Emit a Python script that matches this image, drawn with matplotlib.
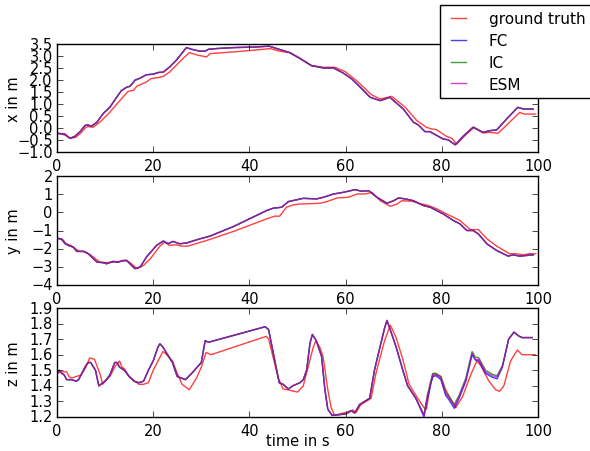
import matplotlib
matplotlib.use("Agg")
import matplotlib.pyplot as plt

# x position: ground truth and estimates (FC, IC, ESM overlap)
t_x_gt = [0, 1.6, 2.8, 3.9, 5.1, 6.0, 6.5, 7.5, 8.9, 11.0, 13.1, 14.8, 15.9, 16.6, 18.6,
          19.6, 21.0, 22.1, 23.4, 25.5, 27.5, 29.4, 31.1, 31.8, 36.7, 40.8, 44.3, 46.3,
          48.4, 50.5, 52.9, 55.4, 57.8, 59.9, 62.3, 65.4, 67.2, 69.6, 72.4, 74.8, 76.8,
          77.9, 78.9, 81.0, 82.1, 83.1, 84.8, 86.7, 88.6, 90.0, 91.7, 94.1, 96.2, 97.2, 99.5]
x_gt = [-0.22, -0.29, -0.43, -0.39, -0.18, 0.03, 0.06, 0.03, 0.24, 0.66, 1.15, 1.53, 1.57,
        1.74, 1.92, 2.06, 2.10, 2.15, 2.33, 2.76, 3.14, 3.03, 2.96, 3.10, 3.17, 3.24, 3.31,
        3.20, 3.14, 2.90, 2.60, 2.53, 2.53, 2.35, 1.97, 1.38, 1.21, 1.32, 0.86, 0.31, 0.03,
        -0.04, -0.07, -0.35, -0.43, -0.67, -0.32, 0.03, -0.21, -0.18, -0.22, 0.24, 0.65,
        0.58, 0.58]
t_x_est = [0, 1.6, 2.7, 3.7, 4.8, 5.8, 6.3, 7.2, 8.3, 9.6, 11.0, 12.4, 13.4, 14.5, 15.2,
           16.2, 17.3, 18.6, 20.0, 21.0, 22.1, 23.4, 24.8, 26.9, 28.0, 29.7, 30.8, 31.5,
           33.2, 36.7, 40.8, 44.1, 45.7, 48.4, 50.5, 52.9, 55.4, 57.5, 59.5, 61.3, 63.4,
           65.1, 67.2, 69.2, 72.0, 74.1, 75.1, 76.5, 77.5, 80.3, 81.3, 82.8, 84.4, 86.5,
           88.6, 90.0, 91.4, 93.5, 95.8, 97.0, 99.0]
x_est = [-0.22, -0.25, -0.43, -0.35, -0.15, 0.10, 0.13, 0.08, 0.24, 0.60, 0.87, 1.28, 1.56,
         1.70, 1.74, 1.99, 2.08, 2.22, 2.24, 2.31, 2.33, 2.54, 2.82, 3.35, 3.28, 3.20, 3.20,
         3.28, 3.31, 3.35, 3.37, 3.41, 3.31, 3.14, 2.90, 2.60, 2.50, 2.50, 2.29, 2.04, 1.63,
         1.28, 1.14, 1.28, 0.79, 0.24, 0.13, -0.15, -0.15, -0.46, -0.49, -0.70, -0.35, 0.03,
         -0.18, -0.11, -0.08, 0.38, 0.86, 0.79, 0.79]

# y position
t_y_gt = [0, 1.2, 1.9, 2.9, 3.6, 4.7, 5.7, 7.1, 8.9, 10.3, 11.7, 13.1, 14.5, 15.5, 16.6,
          18.0, 19.4, 21.4, 22.4, 23.4, 24.8, 25.9, 27.2, 31.1, 36.7, 43.6, 45.3, 46.3,
          47.7, 49.1, 50.5, 51.2, 54.7, 56.1, 58.2, 60.6, 62.4, 64.1, 65.5, 67.2, 69.3,
          70.7, 71.7, 73.8, 75.2, 77.3, 79.0, 81.0, 83.8, 85.9, 87.6, 89.4, 91.4, 94.1,
          95.5, 96.9, 98.2, 99.5]
y_gt = [-1.43, -1.50, -1.73, -1.82, -1.97, -2.15, -2.15, -2.37, -2.74, -2.77, -2.74, -2.70,
        -2.65, -2.83, -3.10, -2.92, -2.55, -1.86, -1.64, -1.82, -1.79, -1.86, -1.86, -1.55,
        -1.05, -0.36, -0.21, -0.21, 0.28, 0.41, 0.46, 0.46, 0.50, 0.59, 0.79, 0.83, 1.01,
        1.01, 1.10, 0.64, 0.33, 0.46, 0.64, 0.61, 0.50, 0.37, 0.19, -0.09, -0.45, -0.95,
        -0.95, -1.46, -1.86, -2.28, -2.28, -2.34, -2.28, -2.28]
t_y_est = [0, 0.9, 1.7, 2.7, 3.4, 4.1, 5.5, 6.5, 8.3, 9.6, 10.3, 11.7, 12.7, 13.8, 14.5,
           15.5, 16.2, 17.3, 18.6, 20.7, 22.1, 23.1, 24.1, 25.5, 26.9, 29.7, 31.8, 36.7,
           43.6, 45.0, 46.7, 48.1, 51.2, 54.0, 55.4, 57.5, 59.5, 62.0, 63.3, 64.8, 66.5,
           68.6, 70.0, 71.0, 72.4, 74.1, 76.2, 77.6, 80.3, 82.4, 83.8, 85.2, 86.5, 87.6,
           89.4, 91.4, 93.8, 94.8, 96.2, 99.0]
y_est = [-1.43, -1.46, -1.73, -1.86, -1.91, -2.15, -2.15, -2.28, -2.74, -2.77, -2.83, -2.70,
         -2.74, -2.65, -2.65, -2.92, -3.10, -3.01, -2.46, -1.82, -1.58, -1.73, -1.60, -1.73,
         -1.69, -1.46, -1.31, -0.78, 0.10, 0.23, 0.28, 0.59, 0.77, 0.74, 0.83, 1.01, 1.10,
         1.25, 1.16, 1.19, 0.83, 0.50, 0.64, 0.79, 0.74, 0.64, 0.37, 0.28, -0.09, -0.45,
         -0.64, -1.00, -1.00, -1.19, -1.74, -2.10, -2.41, -2.34, -2.41, -2.34]

# z position
t_z_gt = [0, 1, 2, 2.5, 3, 4, 5, 6, 6.8, 7.8, 9, 9.5, 10, 11, 12, 13, 13.5, 14, 15, 17, 18,
          19, 20, 21, 22, 22.5, 24, 25, 26, 27.5, 29, 30, 31, 32, 43.5, 44, 46, 47, 48, 50,
          51.2, 52.2, 53.2, 53.8, 54.6, 55.3, 56.3, 57, 57.7, 60.1, 61.5, 62.2, 63.2, 65.3,
          66.3, 68.1, 69.3, 70.5, 71.9, 73.2, 75, 76.3, 76.8, 77.7, 78.4, 79.8, 80.8, 82.9,
          84.3, 86, 87.3, 88.1, 89.8, 91.2, 92, 92.9, 94.3, 95.7, 96.7, 99.4]
z_gt = [1.48, 1.49, 1.49, 1.46, 1.45, 1.46, 1.47, 1.52, 1.58, 1.57, 1.47, 1.41, 1.43, 1.46,
        1.52, 1.56, 1.52, 1.51, 1.46, 1.41, 1.41, 1.42, 1.50, 1.56, 1.62, 1.61, 1.56, 1.48,
        1.41, 1.375, 1.45, 1.52, 1.615, 1.60, 1.718, 1.70, 1.45, 1.38, 1.375, 1.36, 1.40,
        1.52, 1.64, 1.69, 1.65, 1.59, 1.375, 1.26, 1.21, 1.23, 1.245, 1.23, 1.28, 1.32, 1.48,
        1.69, 1.79, 1.71, 1.57, 1.41, 1.32, 1.26, 1.25, 1.42, 1.48, 1.46, 1.375, 1.26, 1.33,
        1.47, 1.56, 1.53, 1.43, 1.375, 1.365, 1.40, 1.56, 1.63, 1.60, 1.60]
t_z_est = [0, 0.5, 1, 1.5, 2, 3, 4, 4.5, 5, 6, 6.5, 7, 8, 8.7, 10, 11, 12, 12.5, 13, 14, 15,
           16, 17, 18, 19, 20, 21, 21.4, 22, 23, 24, 25, 26.7, 28, 30, 30.8, 31.5, 43.3, 44,
           46.2, 47, 48.1, 49, 50.5, 51.2, 51.9, 52.6, 53.1, 53.9, 55, 55.7, 56.3, 57.2, 60.1,
           61.2, 61.9, 62.9, 65, 66, 67, 68.1, 68.6, 69.4, 70.5, 71.9, 72.9, 74.6, 76.3, 77,
           78.1, 78.8, 79.8, 80.8, 81.5, 82.6, 83.6, 85, 86.3, 87, 87.7, 89.1, 90.5, 91.5,
           92.6, 93.9, 95, 96, 96.7, 98.8]
z_esm = [1.48, 1.50, 1.48, 1.47, 1.44, 1.44, 1.43, 1.44, 1.47, 1.53, 1.55, 1.55, 1.50, 1.40,
         1.43, 1.47, 1.55, 1.55, 1.52, 1.50, 1.46, 1.43, 1.42, 1.43, 1.50, 1.56, 1.65, 1.67,
         1.65, 1.60, 1.55, 1.46, 1.44, 1.48, 1.55, 1.69, 1.68, 1.78, 1.76, 1.42, 1.41, 1.38,
         1.40, 1.42, 1.44, 1.50, 1.675, 1.73, 1.69, 1.59, 1.375, 1.25, 1.21, 1.22, 1.24, 1.225,
         1.28, 1.32, 1.50, 1.63, 1.77, 1.82, 1.75, 1.65, 1.50, 1.40, 1.32, 1.21, 1.33, 1.47,
         1.47, 1.45, 1.35, 1.32, 1.27, 1.33, 1.44, 1.61, 1.57, 1.57, 1.49, 1.465, 1.457,
         1.525, 1.70, 1.745, 1.72, 1.71, 1.71]
z_fc = [1.48, 1.50, 1.48, 1.47, 1.44, 1.44, 1.43, 1.44, 1.47, 1.53, 1.55, 1.55, 1.50, 1.40,
        1.43, 1.47, 1.55, 1.55, 1.52, 1.50, 1.46, 1.43, 1.42, 1.43, 1.50, 1.56, 1.65, 1.67,
        1.65, 1.60, 1.55, 1.46, 1.44, 1.48, 1.55, 1.69, 1.68, 1.78, 1.76, 1.42, 1.41, 1.38,
        1.40, 1.42, 1.44, 1.50, 1.675, 1.73, 1.69, 1.59, 1.375, 1.25, 1.21, 1.22, 1.24, 1.225,
        1.28, 1.32, 1.50, 1.63, 1.77, 1.82, 1.75, 1.65, 1.50, 1.40, 1.32, 1.20, 1.32, 1.46,
        1.465, 1.44, 1.34, 1.31, 1.255, 1.32, 1.43, 1.60, 1.565, 1.56, 1.48, 1.455, 1.445,
        1.52, 1.70, 1.745, 1.72, 1.71, 1.71]
z_ic = [1.48, 1.50, 1.48, 1.47, 1.44, 1.44, 1.43, 1.44, 1.47, 1.53, 1.55, 1.55, 1.50, 1.40,
        1.43, 1.47, 1.55, 1.55, 1.52, 1.50, 1.46, 1.43, 1.42, 1.43, 1.50, 1.56, 1.65, 1.67,
        1.65, 1.60, 1.55, 1.46, 1.44, 1.48, 1.55, 1.69, 1.68, 1.78, 1.76, 1.42, 1.41, 1.38,
        1.40, 1.42, 1.44, 1.50, 1.675, 1.73, 1.69, 1.59, 1.375, 1.25, 1.21, 1.22, 1.24, 1.225,
        1.28, 1.32, 1.50, 1.63, 1.77, 1.82, 1.75, 1.65, 1.50, 1.40, 1.32, 1.215, 1.34, 1.48,
        1.48, 1.46, 1.36, 1.33, 1.28, 1.34, 1.45, 1.62, 1.585, 1.58, 1.50, 1.475, 1.465,
        1.53, 1.70, 1.745, 1.72, 1.71, 1.71]

labels = ["ground truth", "FC", "IC", "ESM"]
colors = ["r", "b", "g", "m"]

plt.style.use("classic")
plt.rcParams["font.family"] = ["DejaVu Sans"]
plt.rcParams["font.size"] = 10.5
plt.rcParams["xtick.labelsize"] = 10.5
plt.rcParams["ytick.labelsize"] = 10.5

fig = plt.figure(figsize=(5.9, 4.52), dpi=100, facecolor="white")
W, H = 590.0, 452.0
left, right = 57 / W, 538 / W
boxes = [(45, 153), (177, 286), (309, 418)]
axes = []
for top, bot in boxes:
    ax = fig.add_axes([left, 1 - bot / H, right - left, (bot - top) / H])
    axes.append(ax)

ax1, ax2, ax3 = axes
alpha = 0.75

ax1.plot(t_x_gt, x_gt, color=colors[0], alpha=alpha, label=labels[0])
for c, lab in zip(colors[1:], labels[1:]):
    ax1.plot(t_x_est, x_est, color=c, alpha=alpha, label=lab)

ax2.plot(t_y_gt, y_gt, color=colors[0], alpha=alpha)
for c in colors[1:]:
    ax2.plot(t_y_est, y_est, color=c, alpha=alpha)

ax3.plot(t_z_gt, z_gt, color=colors[0], alpha=alpha)
for c, zz in zip(colors[1:], [z_fc, z_ic, z_esm]):
    ax3.plot(t_z_est, zz, color=c, alpha=alpha)

ax1.set_ylim(-1.0, 3.5)
ax1.set_yticks([-1.0, -0.5, 0.0, 0.5, 1.0, 1.5, 2.0, 2.5, 3.0, 3.5])
ax2.set_ylim(-4, 2)
ax2.set_yticks([-4, -3, -2, -1, 0, 1, 2])
ax3.set_ylim(1.2, 1.9)
ax3.set_yticks([1.2, 1.3, 1.4, 1.5, 1.6, 1.7, 1.8, 1.9])
for ax in axes:
    ax.set_xlim(0, 100)
    ax.set_xticks([0, 20, 40, 60, 80, 100])
    ax.tick_params(axis="x", pad=4)
    ax.tick_params(axis="y", pad=3)

ax1.set_ylabel("x in m")
ax2.set_ylabel("y in m")
ax3.set_ylabel("z in m")
ax3.set_xlabel("time in s", labelpad=-3)
for ax in axes:
    ax.yaxis.set_label_coords(-0.075, 0.5)

fig.legend(*ax1.get_legend_handles_labels(), loc="upper left",
           bbox_to_anchor=(440 / W, 1 - 6 / H), borderaxespad=0,
           fontsize=11, frameon=True, fancybox=False, handlelength=1.6,
           handletextpad=1.2, labelspacing=0.45)

fig.savefig("out.png", dpi=100, facecolor="white")
